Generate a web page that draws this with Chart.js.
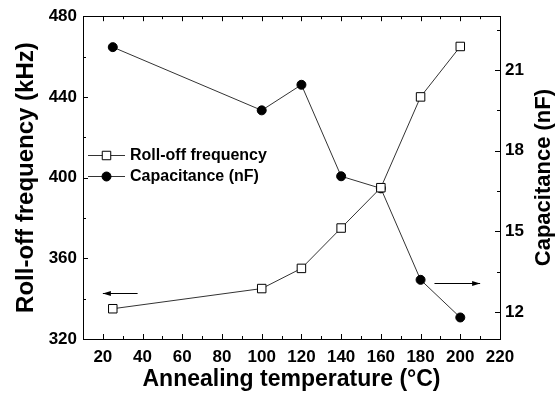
<!DOCTYPE html>
<html>
<head>
<meta charset="utf-8">
<script src="https://cdn.jsdelivr.net/npm/chart.js"></script>
<style>
  html, body { margin: 0; padding: 0; background: #fff; }
  #wrap { width: 556px; height: 395px; }
</style>
</head>
<body>
<div id="wrap"><canvas id="chart"></canvas></div>
<script>
var temps = [25, 100, 120, 140, 160, 180, 200];
var rollOff = [335, 345, 355, 375, 395, 440, 465];
var capacitance = [21.85, 19.5, 20.45, 17.05, 16.6, 13.2, 11.8];
var tempTicks = [20, 40, 60, 80, 100, 120, 140, 160, 180, 200, 220];
var freqTicks = [320, 360, 400, 440, 480];
var capTicks = [12, 15, 18, 21];
var seriesNames = ["Roll-off frequency", "Capacitance (nF)"];
var capTitle = "Capacitance (nF)";

var FONT = "'Liberation Sans', Arial, sans-serif";
Chart.defaults.font.family = FONT;
Chart.defaults.color = "#000";

function toPoints(xs, ys) {
  return xs.map(function(v, i) { return { x: v, y: ys[i] }; });
}
function setTicks(list) {
  return function(scale) { scale.ticks = list.map(function(v) { return { value: v }; }); };
}
function minorsOf(list, min, max) {
  var step = list[1] - list[0], out = [];
  for (var i = -1; i < list.length; i++) {
    var m = (i < 0 ? list[0] : list[i]) + (i < 0 ? -step / 2 : step / 2);
    if (m >= min && m <= max) out.push(m);
  }
  return out;
}

var boxPlugin = {
  id: 'boxPlugin',
  afterDraw: function(chart) {
    var ctx = chart.ctx, a = chart.chartArea;
    var sx = chart.scales.x, sl = chart.scales.y, sr = chart.scales.y2;
    ctx.save();
    ctx.strokeStyle = '#000';
    ctx.lineWidth = 1;
    ctx.strokeRect(Math.round(a.left) + 0.5, Math.round(a.top) + 0.5,
      Math.round(a.right - a.left), Math.round(a.bottom - a.top));
    ctx.beginPath();
    function xt(v, len) {
      var p = Math.round(sx.getPixelForValue(v)) + 0.5;
      ctx.moveTo(p, a.bottom); ctx.lineTo(p, a.bottom - len);
      ctx.moveTo(p, a.top); ctx.lineTo(p, a.top + len);
    }
    function lt(v, len) {
      var p = Math.round(sl.getPixelForValue(v)) + 0.5;
      ctx.moveTo(a.left, p); ctx.lineTo(a.left + len, p);
    }
    function rt(v, len) {
      var p = Math.round(sr.getPixelForValue(v)) + 0.5;
      ctx.moveTo(a.right, p); ctx.lineTo(a.right - len, p);
    }
    tempTicks.forEach(function(v) { xt(v, 5); });
    minorsOf(tempTicks, sx.min, sx.max).forEach(function(v) { xt(v, 3); });
    freqTicks.forEach(function(v) { lt(v, 5); });
    minorsOf(freqTicks, sl.min, sl.max).forEach(function(v) { lt(v, 3); });
    capTicks.forEach(function(v) { rt(v, 5); });
    minorsOf(capTicks, sr.min, sr.max).forEach(function(v) { rt(v, 3); });
    ctx.stroke();

    // arrows pointing to each series' axis
    function arrow(x1, x2, y) {
      ctx.beginPath();
      ctx.moveTo(x1, y); ctx.lineTo(x2, y);
      ctx.stroke();
      var d = x2 > x1 ? 1 : -1;
      ctx.beginPath();
      ctx.moveTo(x2, y);
      ctx.lineTo(x2 - d * 8, y - 2.5);
      ctx.lineTo(x2 - d * 8, y + 2.5);
      ctx.closePath();
      ctx.fill();
    }
    ctx.fillStyle = '#000';
    var ly = Math.round(sl.getPixelForValue(343)) + 0.5;
    arrow(sx.getPixelForValue(37.5), sx.getPixelForValue(20), ly);
    var ry = Math.round(sr.getPixelForValue(13.1)) + 0.5;
    arrow(sx.getPixelForValue(187), sx.getPixelForValue(210), ry);

    // legend
    var lx = a.left + 5, rows = [a.top + 139, a.top + 160];
    chart.data.datasets.forEach(function(ds, i) {
      var y = Math.round(rows[i]) + 0.5;
      ctx.strokeStyle = ds.borderColor;
      ctx.beginPath();
      ctx.moveTo(lx, y); ctx.lineTo(lx + 37, y);
      ctx.stroke();
      var cx = lx + 18.5;
      ctx.strokeStyle = '#000';
      ctx.fillStyle = ds.pointBackgroundColor;
      ctx.beginPath();
      if (ds.pointStyle === 'rect') {
        var h = ds.pointRadius * Math.SQRT1_2;
        ctx.rect(cx - h, y - h, 2 * h, 2 * h);
      } else {
        ctx.arc(cx, y, ds.pointRadius, 0, Math.PI * 2);
      }
      ctx.fill();
      ctx.stroke();
      ctx.fillStyle = '#000';
      ctx.font = "bold 16px " + FONT;
      ctx.textBaseline = 'middle';
      ctx.textAlign = 'left';
      ctx.fillText(ds.label, lx + 42, y);
    });

    // right axis title, reading bottom to top like the left one
    ctx.translate(sr.right - 12, (a.top + a.bottom) / 2);
    ctx.rotate(-Math.PI / 2);
    ctx.font = "bold 22px " + FONT;
    ctx.textAlign = 'center';
    ctx.textBaseline = 'middle';
    ctx.fillText(capTitle, 0, 0);
    ctx.restore();
  }
};

var tickFont = { size: 17, weight: 'bold' };

new Chart(document.getElementById('chart'), {
  type: 'line',
  data: {
    datasets: [{
      label: seriesNames[0],
      data: toPoints(temps, rollOff),
      yAxisID: 'y',
      borderColor: '#333',
      borderWidth: 1,
      pointStyle: 'rect',
      pointRadius: 6,
      pointBorderWidth: 1,
      pointBorderColor: '#000',
      pointBackgroundColor: '#fff'
    }, {
      label: seriesNames[1],
      data: toPoints(temps, capacitance),
      yAxisID: 'y2',
      borderColor: '#333',
      borderWidth: 1,
      pointStyle: 'circle',
      pointRadius: 4.5,
      pointBorderWidth: 1,
      pointBorderColor: '#000',
      pointBackgroundColor: '#000'
    }]
  },
  options: {
    responsive: true,
    maintainAspectRatio: false,
    animation: false,
    layout: { padding: { top: 14, left: 0, right: 0, bottom: 0 } },
    plugins: { legend: { display: false }, tooltip: { enabled: false } },
    scales: {
      x: {
        type: 'linear', position: 'bottom', min: 10, max: 220,
        afterBuildTicks: setTicks(tempTicks),
        afterFit: function(s) { s.height = 56; },
        grid: { display: false, drawTicks: false },
        border: { display: false },
        ticks: { font: tickFont, padding: 8, maxRotation: 0, autoSkip: false },
        title: { display: true, text: 'Annealing temperature (°C)', font: { size: 23, weight: 'bold' }, padding: { top: 0, bottom: 2 } }
      },
      y: {
        type: 'linear', position: 'left', min: 320, max: 480,
        afterBuildTicks: setTicks(freqTicks),
        afterFit: function(s) { s.width = 83; },
        grid: { display: false, drawTicks: false },
        border: { display: false },
        ticks: { font: tickFont, padding: 6 },
        title: { display: true, text: 'Roll-off frequency (kHz)', font: { size: 24, weight: 'bold' }, padding: { top: 12, bottom: 0 } }
      },
      y2: {
        type: 'linear', position: 'right', min: 11, max: 23,
        afterBuildTicks: setTicks(capTicks),
        afterFit: function(s) { s.width = 56; },
        grid: { display: false, drawTicks: false },
        border: { display: false },
        ticks: { font: tickFont, padding: 5 },
        title: { display: false }
      }
    }
  },
  plugins: [boxPlugin]
});
</script>
</body>
</html>
